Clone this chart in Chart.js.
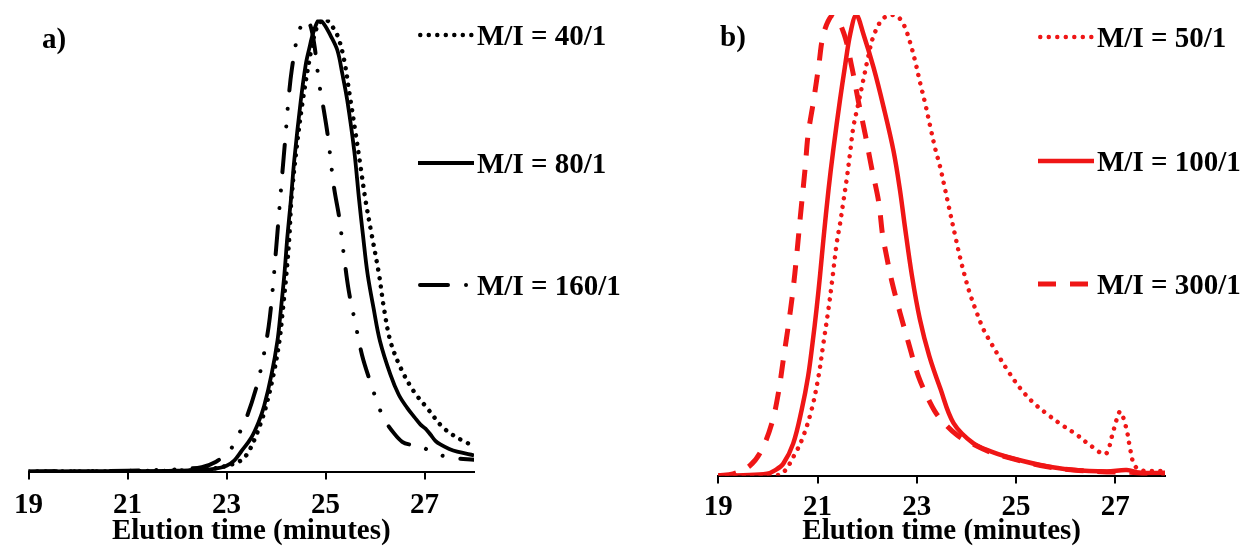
<!DOCTYPE html>
<html>
<head>
<meta charset="utf-8">
<script src="https://cdn.jsdelivr.net/npm/chart.js@4.4.1/dist/chart.umd.min.js"></script>
<style>
  html, body { margin: 0; padding: 0; background: #fff; }
  #wrap { position: relative; width: 1245px; height: 549px; overflow: hidden; }
  .panel { position: absolute; top: 0; height: 549px; }
  .panel canvas { position: absolute; left: 0; top: 0; }
  .tag, .leg-row { position: absolute; font-family: "Liberation Serif", "Times New Roman", serif; font-weight: bold; font-size: 29px; line-height: 30px; color: #000; white-space: nowrap; }
  .leg-row { display: flex; align-items: center; height: 30px; }
  .leg-row svg { display: block; margin-right: 3px; }
</style>
</head>
<body>
<div id="wrap">
  <div class="panel" id="pa" style="left:0;width:620px;">
    <canvas id="ca" width="620" height="549"></canvas>
    <div class="tag" style="left:42px;top:23px;">a)</div>
  </div>
  <div class="panel" id="pb" style="left:620px;width:625px;">
    <canvas id="cb" width="625" height="549"></canvas>
    <div class="tag" style="left:100px;top:21px;">b)</div>
  </div>
</div>
<script>
// ---------------- data ----------------
const xTicks = [19, 21, 23, 25, 27];
const xTitle = "Elution time (minutes)";

// panel a) (black)
const labelsA = ["M/I = 40/1", "M/I = 80/1", "M/I = 160/1"];
const t40 = [19, 20, 21, 22, 22.5, 22.9, 23.3, 23.45, 23.58, 23.7, 23.8, 23.95, 24.07, 24.14, 24.21, 24.27, 24.31, 24.41, 24.54, 24.71, 24.8, 24.9, 25.0, 25.1, 25.24, 25.37, 25.49, 25.61, 25.71, 25.81, 25.93, 26.08, 26.18, 26.31, 26.52, 26.78, 27.05, 27.39, 27.79, 28];
const v40 = [0, 0, 0.001, 0.002, 0.004, 0.01, 0.025, 0.045, 0.075, 0.11, 0.145, 0.215, 0.29, 0.36, 0.437, 0.52, 0.6, 0.71, 0.82, 0.932, 0.975, 0.995, 1.0, 0.99, 0.965, 0.914, 0.832, 0.747, 0.673, 0.599, 0.526, 0.437, 0.362, 0.289, 0.229, 0.178, 0.141, 0.096, 0.067, 0.058];

const t80 = [19, 20, 21, 22, 22.5, 22.75, 23.0, 23.16, 23.3, 23.5, 23.65, 23.76, 23.91, 24.03, 24.10, 24.17, 24.23, 24.3, 24.37, 24.5, 24.6, 24.67, 24.75, 24.87, 24.97, 25.1, 25.24, 25.34, 25.44, 25.58, 25.68, 25.76, 25.85, 25.97, 26.10, 26.31, 26.48, 26.65, 26.8, 26.92, 27.02, 27.12, 27.22, 27.32, 27.5, 27.66, 28];
const v80 = [0, 0.001, 0.001, 0.002, 0.004, 0.006, 0.013, 0.025, 0.045, 0.075, 0.11, 0.145, 0.215, 0.29, 0.36, 0.437, 0.52, 0.6, 0.69, 0.82, 0.9, 0.935, 0.97, 1.0, 0.99, 0.965, 0.932, 0.88, 0.821, 0.71, 0.6, 0.52, 0.437, 0.362, 0.289, 0.215, 0.17, 0.141, 0.12, 0.104, 0.095, 0.082, 0.068, 0.06, 0.05, 0.044, 0.036];

const t160 = [19, 20, 21, 21.8, 22.15, 22.5, 22.79, 23.06, 23.24, 23.4, 23.6, 23.72, 23.85, 23.93, 24.0, 24.06, 24.12, 24.19, 24.25, 24.32, 24.44, 24.55, 24.62, 24.7, 24.78, 24.87, 24.95, 25.05, 25.17, 25.28, 25.37, 25.47, 25.6, 25.74, 25.9, 26.05, 26.18, 26.39, 26.55, 26.7, 26.92, 27.0, 27.15, 27.29, 27.6, 28];
const v160 = [0, 0.001, 0.002, 0.004, 0.006, 0.01, 0.022, 0.046, 0.081, 0.118, 0.185, 0.24, 0.32, 0.4, 0.49, 0.57, 0.65, 0.74, 0.82, 0.89, 0.965, 0.995, 1.0, 0.985, 0.94, 0.86, 0.81, 0.74, 0.63, 0.56, 0.48, 0.40, 0.33, 0.257, 0.2, 0.152, 0.117, 0.084, 0.066, 0.06, 0.058, 0.052, 0.043, 0.037, 0.03, 0.026];

// panel b) (red)
const labelsB = ["M/I = 50/1", "M/I = 100/1", "M/I = 300/1"];
const t50 = [19, 20.0, 20.28, 20.55, 20.71, 20.88, 21.02, 21.12, 21.22, 21.29, 21.39, 21.45, 21.52, 21.59, 21.66, 21.72, 21.82, 21.92, 22.02, 22.12, 22.29, 22.46, 22.60, 22.74, 22.86, 22.97, 23.07, 23.17, 23.27, 23.37, 23.47, 23.54, 23.64, 23.77, 23.87, 23.97, 24.07, 24.21, 24.34, 24.51, 24.68, 24.85, 25.08, 25.35, 25.62, 25.92, 26.23, 26.49, 26.80, 26.93, 27.02, 27.10, 27.22, 27.29, 27.37, 27.5, 28];
const v50 = [0, 0, 0.004, 0.048, 0.085, 0.143, 0.216, 0.289, 0.362, 0.42, 0.508, 0.545, 0.595, 0.646, 0.705, 0.756, 0.807, 0.858, 0.909, 0.952, 0.989, 1.0, 0.998, 0.978, 0.942, 0.898, 0.851, 0.807, 0.758, 0.71, 0.67, 0.636, 0.586, 0.522, 0.474, 0.432, 0.395, 0.353, 0.318, 0.285, 0.254, 0.225, 0.19, 0.158, 0.134, 0.110, 0.088, 0.066, 0.047, 0.085, 0.12, 0.139, 0.103, 0.063, 0.026, 0.012, 0.01];

const t100 = [19, 19.5, 19.98, 20.15, 20.31, 20.51, 20.68, 20.81, 20.90, 20.98, 21.05, 21.12, 21.22, 21.32, 21.45, 21.55, 21.66, 21.78, 21.92, 22.13, 22.33, 22.53, 22.66, 22.76, 22.9, 23.06, 23.25, 23.47, 23.74, 24.14, 24.5, 24.81, 25.49, 26.16, 26.83, 27.23, 27.5, 28];
const v100 = [0, 0.001, 0.004, 0.012, 0.026, 0.07, 0.143, 0.216, 0.289, 0.362, 0.435, 0.515, 0.62, 0.71, 0.814, 0.887, 0.96, 1.0, 0.96, 0.885, 0.8, 0.705, 0.62, 0.54, 0.435, 0.34, 0.26, 0.19, 0.114, 0.07, 0.052, 0.041, 0.023, 0.012, 0.009, 0.012, 0.006, 0.006];

const t300 = [19, 19.3, 19.64, 19.87, 20.08, 20.21, 20.31, 20.41, 20.50, 20.58, 20.65, 20.75, 20.81, 20.92, 21.02, 21.13, 21.32, 21.53, 21.69, 21.82, 21.96, 22.09, 22.23, 22.31, 22.36, 22.50, 22.66, 22.83, 23.03, 23.27, 23.44, 23.81, 24.14, 24.5, 24.81, 25.49, 26.16, 26.83, 27.3, 27.6, 28];
const v300 = [0, 0.004, 0.022, 0.055, 0.114, 0.179, 0.252, 0.325, 0.398, 0.479, 0.559, 0.668, 0.741, 0.814, 0.887, 0.963, 1.0, 0.96, 0.887, 0.814, 0.741, 0.668, 0.595, 0.522, 0.493, 0.42, 0.354, 0.289, 0.216, 0.158, 0.128, 0.088, 0.068, 0.05, 0.04, 0.022, 0.012, 0.008, 0.007, 0.004, 0.004];

// ---------------- helpers ----------------
const FONT = "'Liberation Serif', 'Times New Roman', serif";
const pts = (t, v) => t.map((x, i) => ({ x: x, y: v[i] }));
const BLACK = '#000000';
const RED = '#ef1616';

function makeChart(canvasId, datasets, pad, tickPad, titleTop) {
  return new Chart(document.getElementById(canvasId), {
    type: 'line',
    data: { datasets: datasets },
    options: {
      responsive: false,
      animation: false,
      events: [],
      layout: { padding: pad },
      elements: { point: { radius: 0 }, line: { tension: 0.35 } },
      plugins: { legend: { display: false }, tooltip: { enabled: false }, title: { display: false } },
      scales: {
        x: {
          type: 'linear', min: 19, max: 28,
          afterBuildTicks: (axis) => { axis.ticks = xTicks.map(v => ({ value: v })); },
          grid: { drawOnChartArea: false, drawTicks: true, tickLength: 8, color: '#000', lineWidth: 2 },
          border: { display: true, color: '#000', width: 2 },
          ticks: { color: '#000', padding: tickPad, maxRotation: 0, autoSkip: false,
                   font: { family: FONT, size: 29, weight: 'bold', lineHeight: 0.8 } },
          title: { display: true, text: xTitle, color: '#000',
                   font: { family: FONT, size: 29, weight: 'bold', lineHeight: 0.8 },
                   padding: { top: titleTop, bottom: 0 } }
        },
        y: { display: false, min: 0, max: 1 }
      }
    }
  });
}

function buildLegend(panelId, chart, rowCenters) {
  const panel = document.getElementById(panelId);
  chart.data.datasets.forEach((ds, i) => {
    const row = document.createElement('div');
    row.className = 'leg-row';
    row.style.left = '418px';
    row.style.top = (rowCenters[i] - 15) + 'px';
    const NS = 'http://www.w3.org/2000/svg';
    const svg = document.createElementNS(NS, 'svg');
    svg.setAttribute('width', '56'); svg.setAttribute('height', '12');
    const ln = document.createElementNS(NS, 'line');
    const cap = ds.borderCapStyle || 'butt';
    const inset = cap === 'round' ? ds.borderWidth / 2 : 0;
    ln.setAttribute('x1', String(inset)); ln.setAttribute('x2', String(56 - inset));
    ln.setAttribute('y1', '6'); ln.setAttribute('y2', '6');
    ln.setAttribute('stroke', ds.borderColor);
    ln.setAttribute('stroke-width', String(ds.borderWidth));
    ln.setAttribute('stroke-linecap', cap);
    if (ds.borderDash && ds.borderDash.length) ln.setAttribute('stroke-dasharray', ds.borderDash.join(' '));
    svg.appendChild(ln);
    row.appendChild(svg);
    const span = document.createElement('span');
    span.textContent = ds.label;
    row.appendChild(span);
    panel.appendChild(row);
  });
}

// ---------------- charts ----------------
const chartA = makeChart('ca', [
  { label: labelsA[0], data: pts(t40, v40), borderColor: BLACK, borderWidth: 4.5, borderDash: [0.01, 8.5], borderCapStyle: 'round', fill: false },
  { label: labelsA[1], data: pts(t80, v80), borderColor: BLACK, borderWidth: 3.8, borderCapStyle: 'butt', fill: false },
  { label: labelsA[2], data: pts(t160, v160), borderColor: BLACK, borderWidth: 4, borderDash: [28, 18, 0.01, 18, 0.01, 18], borderCapStyle: 'round', fill: false }
], { left: 26.5, right: 146, top: 19.5, bottom: 6 }, 14, -11);

const chartB = makeChart('cb', [
  { label: labelsB[0], data: pts(t50, v50), borderColor: RED, borderWidth: 4.5, borderDash: [0.01, 8.5], borderCapStyle: 'round', fill: false },
  { label: labelsB[1], data: pts(t100, v100), borderColor: RED, borderWidth: 4.5, borderCapStyle: 'butt', fill: false },
  { label: labelsB[2], data: pts(t300, v300), borderColor: RED, borderWidth: 5, borderDash: [18, 14], borderCapStyle: 'butt', fill: false }
], { left: 98.3, right: 80, top: 15, bottom: 6 }, 12.5, -12);

buildLegend('pa', chartA, [34.5, 163, 285]);
buildLegend('pb', chartB, [36.5, 160.5, 283.5]);
</script>
</body>
</html>
